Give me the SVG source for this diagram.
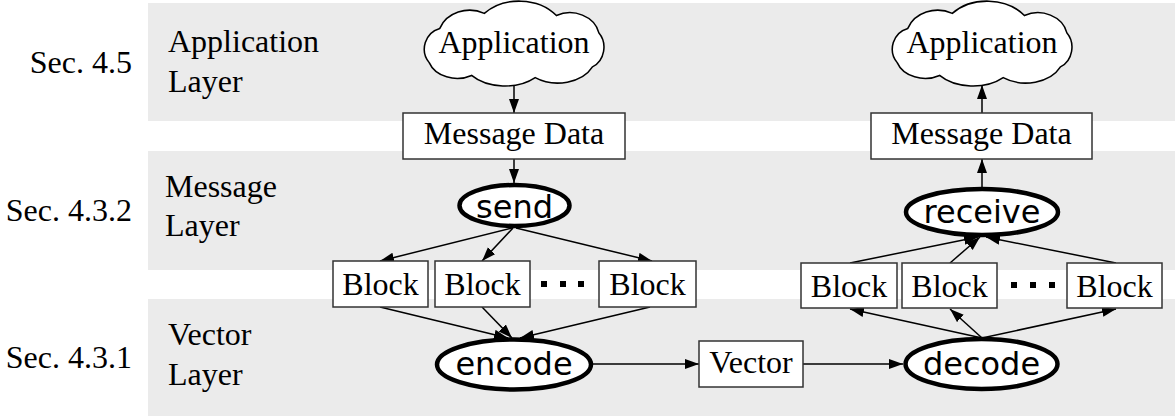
<svg xmlns="http://www.w3.org/2000/svg" width="1175" height="416" viewBox="0 0 1175 416">
  <style>
    .band { fill: #ebebeb; }
    .serif { font-family: "Liberation Serif", "Times New Roman", serif; font-size: 32px; fill: #000; }
    .sans { font-family: "DejaVu Sans", "Liberation Sans", sans-serif; font-size: 32px; fill: #000; }
    .box { fill: #fff; stroke: #333; stroke-width: 1.5; }
    .cloud { fill: #fff; stroke: #000; stroke-width: 1.45; }
    .proc { fill: #fff; stroke: #000; stroke-width: 4.5; }
    .edge { fill: none; stroke: #000; stroke-width: 1.5; marker-end: url(#arrow); }
    .dot { fill: #000; }
  </style>
  <defs>
    <marker id="arrow" markerUnits="userSpaceOnUse" markerWidth="16" markerHeight="12" refX="14" refY="5" orient="auto">
      <path d="M0,0 L14,5 L0,10 z" fill="#000"/>
    </marker>
    <path id="cloudShape" d="M -80,16 A 20 20 0 0 1 -70,-16 A 30 26 0 0 1 -28,-30 A 44 34 0 0 1 40,-28 A 28 24 0 0 1 80,-12 A 18 20 0 0 1 74,20 A 36 26 0 0 1 20,30 A 40 26 0 0 1 -40,28 A 28 22 0 0 1 -80,16 Z"/>
  </defs>

  <!-- layer bands -->
  <g id="bands">
    <rect class="band" x="148" y="3" width="1027" height="118"/>
    <rect class="band" x="148" y="151" width="1027" height="119"/>
    <rect class="band" x="148" y="299" width="1027" height="117"/>
  </g>

  <!-- section references -->
  <g id="sections" class="serif" text-anchor="end">
    <text x="132" y="73">Sec. 4.5</text>
    <text x="132" y="221">Sec. 4.3.2</text>
    <text x="132" y="368">Sec. 4.3.1</text>
  </g>

  <!-- layer names -->
  <g id="layer-names" class="serif">
    <text x="168" y="52">Application</text>
    <text x="168" y="92">Layer</text>
    <text x="165" y="197">Message</text>
    <text x="165" y="236">Layer</text>
    <text x="168" y="345">Vector</text>
    <text x="168" y="385">Layer</text>
  </g>

  <!-- connectors -->
  <g id="connectors">
    <line class="edge" x1="514" y1="84" x2="514" y2="113"/>
    <line class="edge" x1="514" y1="159" x2="514" y2="183"/>
    <line class="edge" x1="512" y1="228" x2="380" y2="261"/>
    <line class="edge" x1="513" y1="228" x2="482" y2="261"/>
    <line class="edge" x1="516" y1="228" x2="652" y2="261"/>
    <line class="edge" x1="380" y1="307" x2="508" y2="338"/>
    <line class="edge" x1="482" y1="307" x2="512" y2="338"/>
    <line class="edge" x1="650" y1="307" x2="520" y2="338"/>
    <line class="edge" x1="593" y1="364" x2="699" y2="364"/>
    <line class="edge" x1="803" y1="364" x2="903" y2="364"/>
    <line class="edge" x1="982" y1="338" x2="850" y2="309"/>
    <line class="edge" x1="982" y1="338" x2="950" y2="309"/>
    <line class="edge" x1="982" y1="338" x2="1116" y2="309"/>
    <line class="edge" x1="850" y1="263" x2="978" y2="237"/>
    <line class="edge" x1="950" y1="263" x2="980" y2="237"/>
    <line class="edge" x1="1116" y1="263" x2="986" y2="237"/>
    <line class="edge" x1="982" y1="187" x2="982" y2="159"/>
    <line class="edge" x1="982" y1="113" x2="982" y2="85"/>
  </g>

  <!-- sender side -->
  <g id="app-send">
    <use href="#cloudShape" class="cloud" transform="translate(514,45.5) scale(1.06,1.07)"/>
    <text class="serif" x="514" y="53" text-anchor="middle">Application</text>
  </g>
  <g id="msg-send">
    <rect class="box" x="403" y="113" width="222" height="46"/>
    <text class="serif" x="514" y="144" text-anchor="middle">Message Data</text>
  </g>
  <g id="send">
    <ellipse class="proc" cx="514.5" cy="205.5" rx="55" ry="20.5"/>
    <text class="sans" x="514.5" y="218" text-anchor="middle">send</text>
  </g>
  <g id="block-s1">
    <rect class="box" x="333" y="261" width="95" height="46"/>
    <text class="serif" x="380.5" y="295" text-anchor="middle">Block</text>
  </g>
  <g id="block-s2">
    <rect class="box" x="435" y="261" width="95" height="46"/>
    <text class="serif" x="482.5" y="295" text-anchor="middle">Block</text>
  </g>
  <g id="dots-s">
    <rect class="dot" x="541" y="281" width="6" height="6"/>
    <rect class="dot" x="560" y="281" width="6" height="6"/>
    <rect class="dot" x="578" y="281" width="6" height="6"/>
  </g>
  <g id="block-s3">
    <rect class="box" x="599" y="261" width="97" height="46"/>
    <text class="serif" x="647.5" y="295" text-anchor="middle">Block</text>
  </g>
  <g id="encode">
    <ellipse class="proc" cx="514" cy="364.5" rx="77" ry="25"/>
    <text class="sans" x="514" y="375" text-anchor="middle">encode</text>
  </g>

  <!-- channel -->
  <g id="vector">
    <rect class="box" x="699" y="341" width="104" height="46"/>
    <text class="serif" x="751" y="373" text-anchor="middle">Vector</text>
  </g>

  <!-- receiver side -->
  <g id="decode">
    <ellipse class="proc" cx="981.5" cy="364" rx="76" ry="25"/>
    <text class="sans" x="981.5" y="375" text-anchor="middle">decode</text>
  </g>
  <g id="block-r1">
    <rect class="box" x="801" y="263" width="96" height="45"/>
    <text class="serif" x="849" y="297" text-anchor="middle">Block</text>
  </g>
  <g id="block-r2">
    <rect class="box" x="902" y="263" width="95" height="45"/>
    <text class="serif" x="949.5" y="297" text-anchor="middle">Block</text>
  </g>
  <g id="dots-r">
    <rect class="dot" x="1011" y="282" width="6" height="6"/>
    <rect class="dot" x="1030" y="282" width="6" height="6"/>
    <rect class="dot" x="1049" y="282" width="6" height="6"/>
  </g>
  <g id="block-r3">
    <rect class="box" x="1067" y="263" width="95" height="45"/>
    <text class="serif" x="1114.5" y="297" text-anchor="middle">Block</text>
  </g>
  <g id="receive">
    <ellipse class="proc" cx="982" cy="212" rx="76" ry="23"/>
    <text class="sans" x="982" y="223" text-anchor="middle">receive</text>
  </g>
  <g id="msg-recv">
    <rect class="box" x="871" y="113" width="221" height="46"/>
    <text class="serif" x="981.5" y="144" text-anchor="middle">Message Data</text>
  </g>
  <g id="app-recv">
    <use href="#cloudShape" class="cloud" transform="translate(982,45.5) scale(1.06,1.07)"/>
    <text class="serif" x="982" y="53" text-anchor="middle">Application</text>
  </g>
</svg>
